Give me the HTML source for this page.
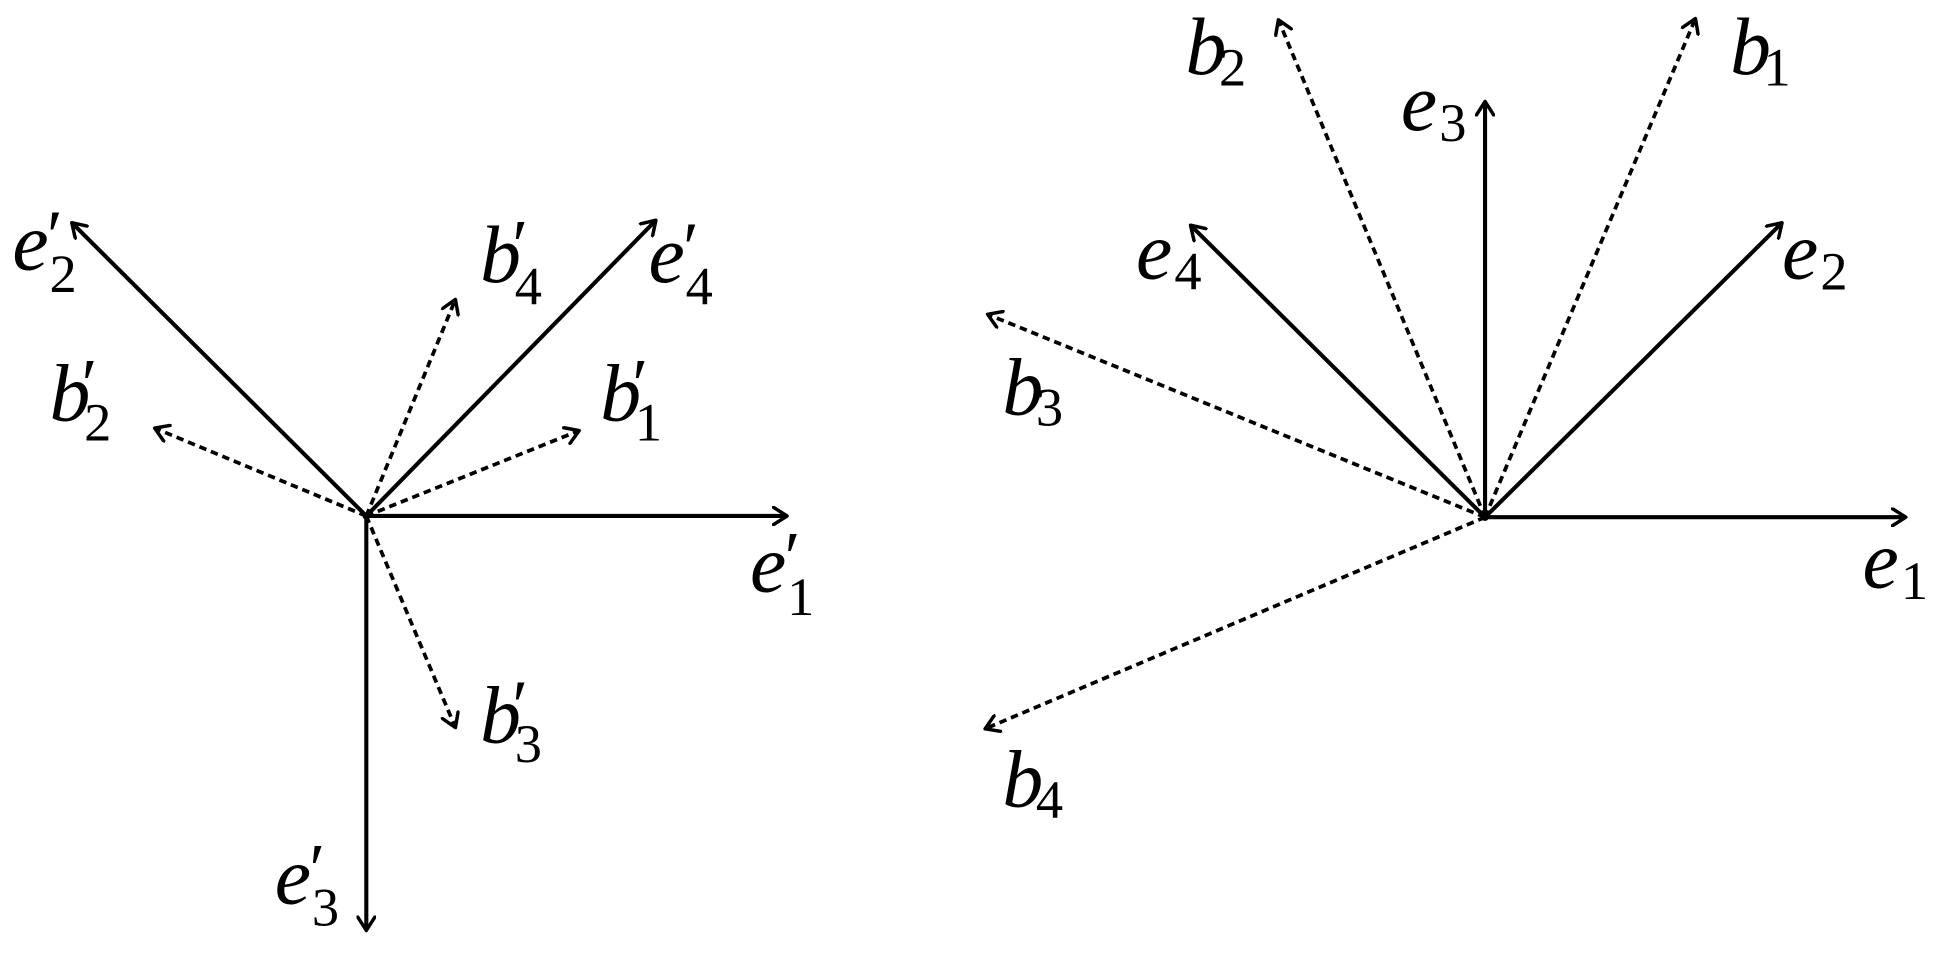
<!DOCTYPE html>
<html><head><meta charset="utf-8"><style>
html,body{margin:0;padding:0;background:#fff;width:1938px;height:954px;overflow:hidden}
svg{display:block}
text{font-family:"Liberation Serif","DejaVu Serif",serif;fill:#000}
.v{font-style:italic;font-size:66px}
.s{font-size:44px}
.p{font-size:58px}
</style></head><body>
<svg width="1938" height="954" viewBox="0 0 1566 771" preserveAspectRatio="none" xmlns="http://www.w3.org/2000/svg">
<defs>
<marker id="a" viewBox="-12 -8 14 16" refX="0" refY="0" markerWidth="14" markerHeight="16" markerUnits="userSpaceOnUse" orient="auto">
<path d="M-11,-7 L0,0 L-11,7" fill="none" stroke="#000" stroke-width="2.8" stroke-linecap="round" stroke-linejoin="round"/>
</marker>
</defs>
<g stroke="#000" stroke-width="3.3" fill="none" marker-end="url(#a)">
<line x1="296" y1="417" x2="636" y2="417"/>
<line x1="296" y1="417" x2="58" y2="180"/>
<line x1="296" y1="417" x2="296" y2="752"/>
<line x1="296" y1="417" x2="530" y2="178"/>
<line x1="1200" y1="418" x2="1540" y2="418"/>
<line x1="1200" y1="418" x2="1440" y2="180"/>
<line x1="1200" y1="418" x2="1200" y2="82"/>
<line x1="1200" y1="418" x2="962" y2="182"/>
</g>
<g stroke="#000" stroke-width="3" fill="none" stroke-dasharray="6 4" marker-end="url(#a)">
<line x1="296" y1="417" x2="468" y2="348"/>
<line x1="296" y1="417" x2="125" y2="346"/>
<line x1="296" y1="417" x2="368" y2="588"/>
<line x1="296" y1="417" x2="368" y2="242"/>
<line x1="1200" y1="418" x2="1370" y2="15"/>
<line x1="1200" y1="418" x2="1033" y2="16"/>
<line x1="1200" y1="418" x2="798" y2="254"/>
<line x1="1200" y1="418" x2="796" y2="589"/>
</g>
<circle cx="296" cy="417" r="3"/><circle cx="1200" cy="418" r="3"/>
<!-- left labels -->
<text class="v" x="606" y="478">e</text><text class="s" x="636" y="497">1</text><text class="p" x="634" y="470">′</text>
<text class="v" x="10" y="218">e</text><text class="s" x="40" y="236">2</text><text class="p" x="38" y="210">′</text>
<text class="v" x="222" y="730">e</text><text class="s" x="252" y="748">3</text><text class="p" x="250" y="722">′</text>
<text class="v" x="524" y="228">e</text><text class="s" x="554" y="246">4</text><text class="p" x="552" y="220">′</text>
<text class="v" x="485" y="340">b</text><text class="s" x="513" y="356">1</text><text class="p" x="511" y="330">′</text>
<text class="v" x="40" y="340">b</text><text class="s" x="68" y="356">2</text><text class="p" x="66" y="330">′</text>
<text class="v" x="388" y="600">b</text><text class="s" x="416" y="616">3</text><text class="p" x="414" y="590">′</text>
<text class="v" x="388" y="228">b</text><text class="s" x="416" y="246">4</text><text class="p" x="414" y="218">′</text>
<!-- right labels -->
<text class="v" x="1505" y="475">e</text><text class="s" x="1536" y="484">1</text>
<text class="v" x="1440" y="225">e</text><text class="s" x="1471" y="234">2</text>
<text class="v" x="1132" y="105">e</text><text class="s" x="1163" y="114">3</text>
<text class="v" x="918" y="225">e</text><text class="s" x="949" y="234">4</text>
<text class="v" x="1398" y="60">b</text><text class="s" x="1425" y="69">1</text>
<text class="v" x="958" y="60">b</text><text class="s" x="985" y="69">2</text>
<text class="v" x="810" y="335">b</text><text class="s" x="837" y="344">3</text>
<text class="v" x="810" y="652">b</text><text class="s" x="837" y="661">4</text>
</svg>
</body></html>
